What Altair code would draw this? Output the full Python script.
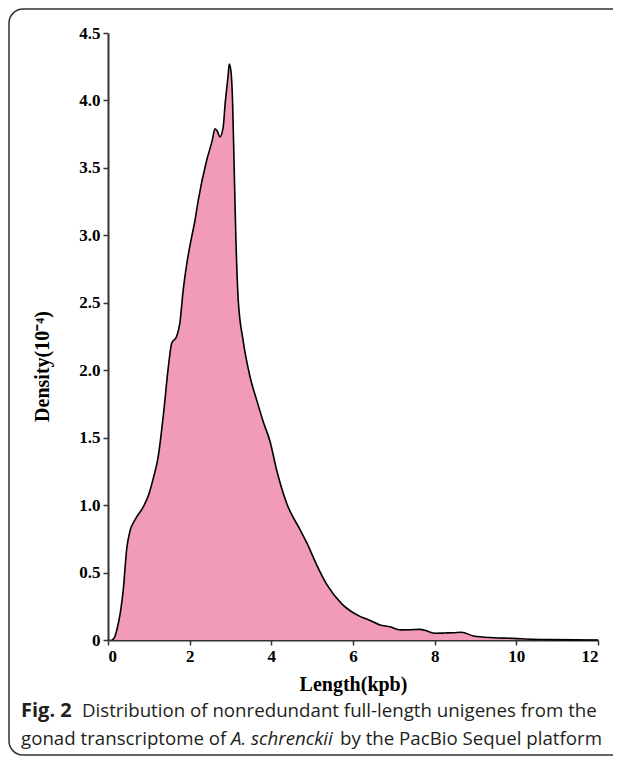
import altair as alt
import pandas as pd

# Density curve (length in kpb, density in 1e-4)
length_kpb = [0.1, 0.16, 0.22, 0.3, 0.37, 0.46, 0.54, 0.66, 0.87, 1.0,
              1.11, 1.23, 1.36, 1.48, 1.56, 1.68, 1.76, 1.84, 1.93, 2.05,
              2.13, 2.21, 2.42, 2.55, 2.62, 2.68, 2.74, 2.82, 2.87, 2.94,
              2.97, 3.01, 3.05, 3.09, 3.13, 3.19, 3.31, 3.48, 3.64, 3.80,
              3.97, 4.13, 4.38, 4.70, 4.87, 5.09, 5.36, 5.72, 6.17, 6.42,
              6.66, 6.91, 7.15, 7.40, 7.64, 7.80, 8.01, 8.25, 8.46, 8.66,
              8.95, 9.44, 9.93, 10.4, 10.8, 11.5, 12.0]
density = [0, 0.02, 0.08, 0.2, 0.36, 0.68, 0.81, 0.89, 0.99, 1.08,
           1.2, 1.36, 1.68, 2.03, 2.2, 2.25, 2.35, 2.59, 2.79, 2.99,
           3.11, 3.26, 3.56, 3.70, 3.79, 3.77, 3.73, 3.80, 3.98, 4.18,
           4.27, 4.22, 4.0, 3.5, 3.0, 2.52, 2.22, 1.95, 1.78, 1.62,
           1.47, 1.26, 1.01, 0.82, 0.72, 0.57, 0.41, 0.27, 0.175, 0.145,
           0.112, 0.098, 0.075, 0.076, 0.079, 0.068, 0.05, 0.052, 0.054, 0.058,
           0.03, 0.017, 0.012, 0.005, 0.003, 0.001, 0.0]

x_ticks = [0, 2, 4, 6, 8, 10, 12]
y_ticks = [0, 0.5, 1.0, 1.5, 2.0, 2.5, 3.0, 3.5, 4.0, 4.5]

x_title = "Length(kpb)"
y_title = "Density(10\u207b\u2074)"

caption_line1 = ["Fig. 2", "Distribution of nonredundant full-length unigenes from the"]
caption_line2 = ["gonad transcriptome of", "A. schrenckii", "by the PacBio Sequel platform"]

df = pd.DataFrame({"len": length_kpb, "dens": density})

SERIF = "Liberation Serif"
SANS = "Open Sans"
PINK = "#F19ABA"

area = alt.Chart(df).mark_area(
    color=PINK, opacity=1, fillOpacity=1,
    interpolate="monotone",
    line={"color": "black", "strokeWidth": 1.6},
).encode(
    x=alt.X("len:Q",
            scale=alt.Scale(domain=[0, 12], nice=False),
            axis=alt.Axis(values=x_ticks, title=x_title, format="d",
                          titlePadding=10)),
    y=alt.Y("dens:Q",
            scale=alt.Scale(domain=[0, 4.5], nice=False),
            axis=alt.Axis(values=y_ticks, title=y_title,
                          labelExpr="datum.value == 0 ? '0' : format(datum.value, '.1f')",
                          titleX=-60, titleY=333, titleAngle=270,
                          titleAlign="center", titleBaseline="alphabetic")),
)

one = pd.DataFrame({"k": [0]})

border = alt.Chart(one).mark_rect(
    fillOpacity=0, stroke="#333333", strokeWidth=1.5, cornerRadius=14
).encode(
    x=alt.value(-99), x2=alt.value(530), y=alt.value(-24), y2=alt.value(722)
)

def cap(text, x, y, align="left", style="normal", weight="normal", size=18.7):
    return alt.Chart(one).mark_text(
        text=text, align=align, baseline="alphabetic", font=SANS,
        fontSize=size, fontStyle=style, fontWeight=weight, color="#231F20"
    ).encode(x=alt.value(x), y=alt.value(y))

captions = [
    cap(caption_line1[0], -87, 684, weight="bold", size=20),
    cap(caption_line1[1], -26, 684),
    cap(caption_line2[0], -87, 712),
    cap(caption_line2[1], 123, 712, style="italic"),
    cap(caption_line2[2], 232, 712),
]

chart = alt.layer(area, border, *captions).properties(
    width=490, height=607,
    autosize=alt.AutoSizeParams(type="none"),
    padding={"left": 100, "top": 25, "right": 15, "bottom": 116},
).configure_view(stroke=None).configure_axis(
    grid=False,
    domainColor="#333333", domainWidth=2,
    tickColor="#333333", tickWidth=1.5, tickSize=5,
    labelFont=SERIF, labelFontWeight="bold", labelFontSize=17, labelColor="black",
    labelPadding=3,
    titleFont=SERIF, titleFontWeight="bold", titleFontSize=20, titleColor="black",
)

chart.save("out.html", embed_options={"renderer": "svg", "actions": False})
